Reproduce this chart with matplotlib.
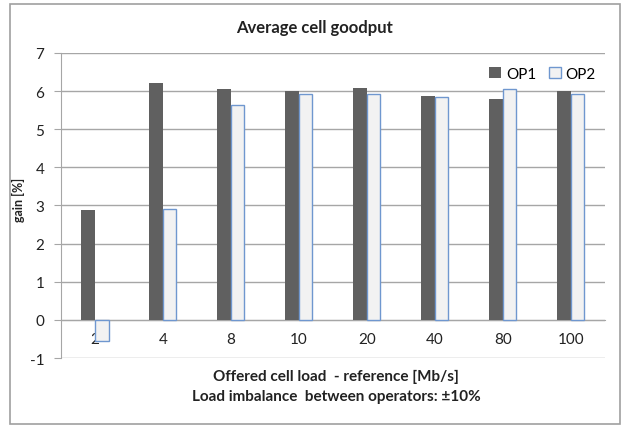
import matplotlib.pyplot as plt
import numpy as np
from matplotlib.patches import Rectangle

plt.rcParams['font.family'] = ['Lato', 'DejaVu Sans']
plt.rcParams['axes.unicode_minus'] = False

loads = ['2', '4', '8', '10', '20', '40', '80', '100']
op1 = [2.87, 6.2, 6.06, 6.01, 6.09, 5.87, 5.8, 6.0]
op2 = [-0.56, 2.9, 5.64, 5.91, 5.91, 5.85, 6.04, 5.91]

fig = plt.figure(figsize=(6.28, 4.31), dpi=100)
ax = fig.add_axes([0.097, 0.167, 0.866, 0.708])

x = np.arange(len(loads))
w = 0.2
ax.bar(x - w / 2, op1, w, color='#606060', label='OP1', zorder=3)
ax.bar(x + w / 2, op2, w, color='#F2F2F2', edgecolor='#6F97CF',
       linewidth=1.0, label='OP2', zorder=3)

ax.set_xlim(-0.5, len(loads) - 0.5)
ax.set_ylim(-1, 7)
ax.set_yticks(range(-1, 8))
ax.grid(axis='y', color='#A6A6A6', linewidth=1.0, zorder=0)

# category axis sits on the zero line
ax.spines['bottom'].set_position(('data', 0))
ax.spines['bottom'].set_color('#A6A6A6')
ax.spines['top'].set_visible(False)
ax.spines['right'].set_visible(False)
ax.spines['left'].set_color('#A6A6A6')
ax.set_xticks(x)
ax.set_xticklabels(loads)
ax.tick_params(axis='x', length=0, pad=9, labelsize=11, labelcolor='#222222')
ax.tick_params(axis='y', length=5, color='#A6A6A6', labelsize=11,
               labelcolor='#222222', pad=7)

ax.legend(loc='center right', bbox_to_anchor=(1.0, 0.932), ncol=2, frameon=False,
          handlelength=0.8, handleheight=0.8, handletextpad=0.3,
          columnspacing=0.8, fontsize=11, borderaxespad=0.2)

fig.text(0.029, 0.535, 'gain [%]', rotation=90, ha='center', va='center',
         fontsize=9, fontweight='bold', color='#222222')
fig.text(0.5, 0.936, 'Average cell goodput', ha='center', va='center',
         fontsize=12, fontweight='bold', color='#222222')
fig.text(0.535, 0.125, 'Offered cell load  - reference [Mb/s]', ha='center',
         va='center', fontsize=11, fontweight='bold', color='#222222')
fig.text(0.535, 0.079, 'Load imbalance  between operators: \u00b110%',
         ha='center', va='center', fontsize=11, fontweight='bold', color='#222222')

fig.patches.append(Rectangle((0.016, 0.014), 0.972, 0.974, transform=fig.transFigure,
                             fill=False, edgecolor='#A0A0A0', linewidth=1.2))

fig.savefig('out.png', dpi=100)
